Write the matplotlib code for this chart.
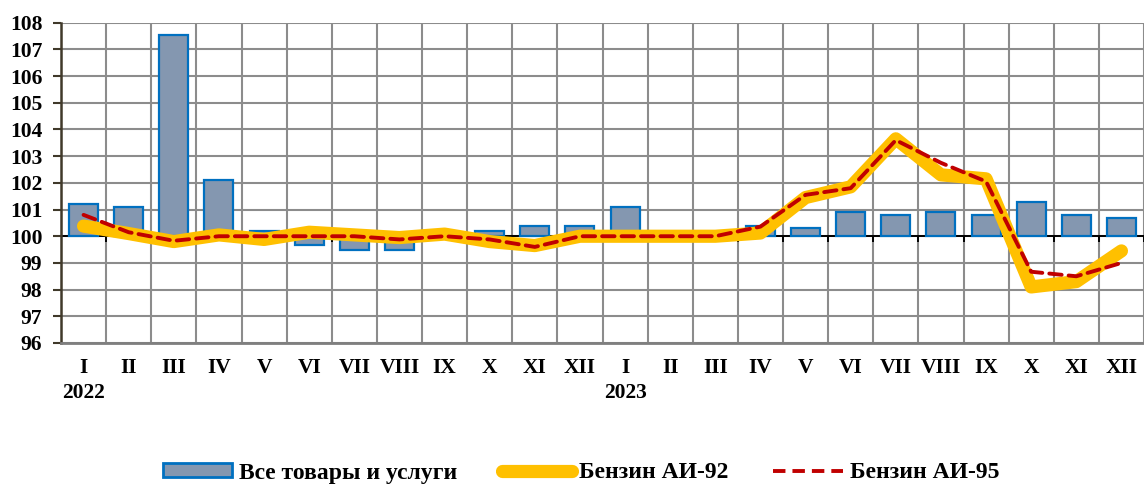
import matplotlib.pyplot as plt
import numpy as np
from matplotlib.patches import Patch
from matplotlib.lines import Line2D

months = ["I", "II", "III", "IV", "V", "VI", "VII", "VIII", "IX", "X", "XI", "XII"] * 2
years = {0: "2022", 12: "2023"}

all_goods = [101.2, 101.1, 107.55, 102.1, 100.2, 99.67, 99.5, 99.5, 100.0, 100.2, 100.4, 100.4,
             101.1, 100.0, 100.0, 100.4, 100.3, 100.9, 100.8, 100.9, 100.8, 101.3, 100.8, 100.7]
ai92 = [100.38, 100.1, 99.8, 100.05, 99.88, 100.15, 100.05, 99.95, 100.08, 99.8, 99.65, 100.0,
        100.0, 100.0, 100.0, 100.12, 101.45, 101.85, 103.65, 102.3, 102.15, 98.1, 98.3, 99.45]
ai95 = [100.8, 100.15, 99.83, 100.0, 100.0, 100.0, 100.0, 99.88, 100.0, 99.88, 99.6, 100.0,
        100.0, 100.0, 100.0, 100.36, 101.55, 101.8, 103.6, 102.75, 102.05, 98.67, 98.5, 99.0]

plt.rcParams["font.family"] = ["Liberation Serif", "DejaVu Serif"]
plt.rcParams["font.weight"] = "bold"

fig = plt.figure(figsize=(11.44, 4.87), dpi=100)
W, H = 1144, 487
ax = fig.add_axes([61 / W, (H - 343) / H, 1083 / W, (343 - 22.7) / H])

x = np.arange(len(months))
heights = np.array(all_goods) - 100
ax.bar(x, heights, bottom=100, width=0.64, color="#8497B0", edgecolor="#0070C0",
       linewidth=1.6, zorder=3)

# category axis crossing at 100
ax.axhline(100, color="black", lw=1.4, zorder=2.5)
ax.vlines(np.arange(len(months) + 1) - 0.5, 99.78, 100, color="black", lw=1.4, zorder=2.5)

ax.plot(x, ai92, color="#FFC000", lw=9.5, solid_capstyle="round", solid_joinstyle="round",
        zorder=4)
ax.plot(x, ai95, color="#C00000", lw=2.8, dashes=(3.2, 1.8), dash_capstyle="round", zorder=5)

ax.set_xlim(-0.5, len(months) - 0.5)
ax.set_ylim(96, 108)
ax.set_yticks(np.arange(96, 109, 1))
ax.set_yticklabels([str(v) for v in range(96, 109)], fontsize=15.5, fontweight="bold")
ax.set_xticks(np.arange(len(months) + 1) - 0.5, minor=False)
ax.set_xticklabels([])
ax.tick_params(axis="x", length=0)
ax.tick_params(axis="y", length=6, width=1.5, color="#40392a", pad=7.5)
ax.grid(True, color="#8c8c8c", lw=1.5, zorder=0)

for sp in ["top", "right"]:
    ax.spines[sp].set_visible(False)
ax.spines["left"].set_color("#40392a")
ax.spines["left"].set_linewidth(1.8)
ax.spines["bottom"].set_color("#7f7f7f")
ax.spines["bottom"].set_linewidth(2.0)

for i, m in enumerate(months):
    ax.text(i, -0.078, m, transform=ax.get_xaxis_transform(), ha="center", va="center",
            fontsize=15.5, fontweight="bold")
for i, y in years.items():
    ax.text(i, -0.155, y, transform=ax.get_xaxis_transform(), ha="center", va="center",
            fontsize=15.5, fontweight="bold")

handles = [
    Patch(facecolor="#8497B0", edgecolor="#0070C0", linewidth=2.0),
    Line2D([], [], color="#FFC000", lw=9.5, solid_capstyle="round"),
    Line2D([], [], color="#C00000", lw=2.8, dashes=(3.2, 1.8)),
]
labels = ["Все товары и услуги", "Бензин АИ-92", "Бензин АИ-95"]
fig.legend(handles, labels, loc="center", bbox_to_anchor=(0.508, 1 - 473 / H), ncol=3,
           frameon=False, handlelength=2.95, handleheight=0.55, columnspacing=1.9,
           handletextpad=0.3, prop={"weight": "bold", "size": 17})

fig.savefig("out.png", dpi=100)
